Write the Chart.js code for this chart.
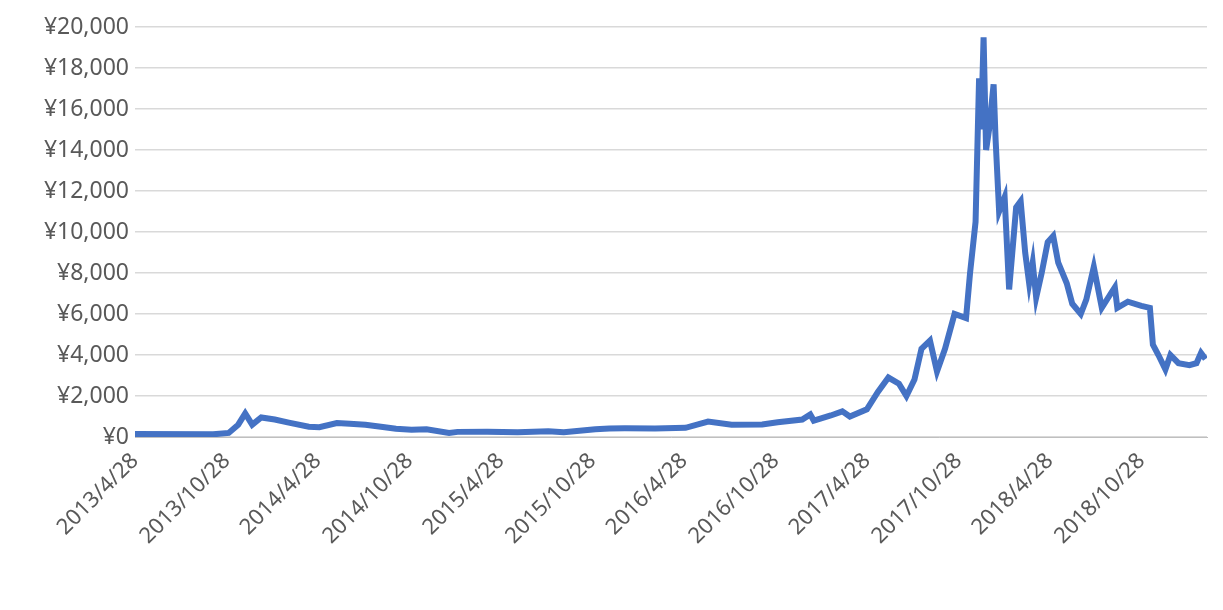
<!DOCTYPE html>
<html>
<head>
<meta charset="utf-8">
<script src="https://cdn.jsdelivr.net/npm/chart.js@4"></script>
<style>
  body { margin: 0; background: #fff; }
  #wrap { width: 1223px; height: 610px; }
</style>
</head>
<body>
<div id="wrap"><canvas id="c"></canvas></div>
<script>
// 日付と価格 (円)
const dates = [
  '2013/4/28','2013/10/1','2013/11/1','2013/11/20','2013/12/4','2013/12/18','2014/1/5','2014/2/1','2014/3/1','2014/4/10',
  '2014/5/1','2014/6/5','2014/7/1','2014/8/1','2014/9/1','2014/10/1','2014/11/1','2014/12/1','2015/1/15','2015/2/1',
  '2015/4/1','2015/6/1','2015/8/1','2015/9/1','2015/11/3','2015/12/1','2016/1/1','2016/3/1','2016/5/1','2016/6/15',
  '2016/8/1','2016/10/1','2016/11/1','2016/12/20','2017/1/5','2017/1/12','2017/2/15','2017/3/10','2017/3/25','2017/4/28',
  '2017/5/20','2017/6/10','2017/7/1','2017/7/16','2017/8/1','2017/8/15','2017/9/1','2017/9/15','2017/10/1','2017/10/20',
  '2017/11/12','2017/11/20','2017/12/1','2017/12/8','2017/12/12','2017/12/17','2017/12/22','2017/12/28','2018/1/6','2018/1/10',
  '2018/1/17','2018/1/28','2018/2/6','2018/2/20','2018/3/1','2018/3/10','2018/3/18','2018/3/25','2018/4/1','2018/4/12',
  '2018/4/24','2018/5/5','2018/5/15','2018/6/1','2018/6/12','2018/6/29','2018/7/10','2018/7/25','2018/8/10','2018/8/28',
  '2018/9/5','2018/9/10','2018/10/1','2018/10/28','2018/11/14','2018/11/20','2018/12/1','2018/12/15','2018/12/25','2019/1/10',
  '2019/2/1','2019/2/15','2019/2/24','2019/3/5'
];
const prices = [
  150,130,200,600,1150,600,950,850,700,500,
  480,680,650,600,500,400,350,380,200,250,
  260,230,280,230,380,420,430,420,450,750,
  600,610,720,850,1100,800,1050,1250,1000,1350,
  2200,2900,2600,2000,2800,4300,4700,3200,4300,6000,
  5800,8000,10500,17500,15000,19500,14000,15000,17200,14500,
  11000,11700,7200,11200,11500,9000,7500,8500,6800,8000,
  9500,9800,8500,7500,6500,6000,6700,8300,6300,7000,
  7300,6300,6600,6400,6300,4500,4000,3300,4000,3600,
  3500,3600,4100,3800
];
const tickDates = ['2013/4/28','2013/10/28','2014/4/28','2014/10/28','2015/4/28','2015/10/28',
  '2016/4/28','2016/10/28','2017/4/28','2017/10/28','2018/4/28','2018/10/28'];
const endDate = '2019/3/8';

const toTime = s => { const [y, m, d] = s.split('/').map(Number); return Date.UTC(y, m - 1, d); };
const labelOf = {};
tickDates.forEach(s => { labelOf[toTime(s)] = s; });

new Chart(document.getElementById('c'), {
  type: 'line',
  data: {
    datasets: [{
      data: dates.map((d, i) => ({ x: toTime(d), y: prices[i] })),
      borderColor: '#4472C4',
      borderWidth: 6,
      pointRadius: 0,
      tension: 0,
      fill: false
    }]
  },
  options: {
    responsive: true,
    maintainAspectRatio: false,
    animation: false,
    layout: { padding: { top: 27, right: 16, left: 0 } },
    plugins: { legend: { display: false }, tooltip: { enabled: false } },
    scales: {
      x: {
        type: 'linear',
        min: toTime(tickDates[0]),
        max: toTime(endDate),
        afterBuildTicks: axis => { axis.ticks = tickDates.map(s => ({ value: toTime(s) })); },
        afterFit: axis => { axis.height = 173; },
        grid: { display: false, drawTicks: true, tickLength: 8, tickColor: '#bfbfbf' },
        border: { color: '#bfbfbf' },
        ticks: {
          callback: v => labelOf[v] || '',
          maxRotation: 45, minRotation: 45,
          color: '#595959',
          font: { family: 'Noto Sans', size: 22 },
          autoSkip: false
        }
      },
      y: {
        min: 0, max: 20000,
        afterFit: axis => { axis.width = 135; },
        ticks: {
          stepSize: 2000,
          color: '#595959',
          padding: 6,
          font: { family: 'Noto Sans', size: 23 },
          callback: v => '¥' + v.toLocaleString('en-US')
        },
        grid: { color: '#d9d9d9', lineWidth: 1.5, drawTicks: false },
        border: { display: false }
      }
    }
  }
});
</script>
</body>
</html>
